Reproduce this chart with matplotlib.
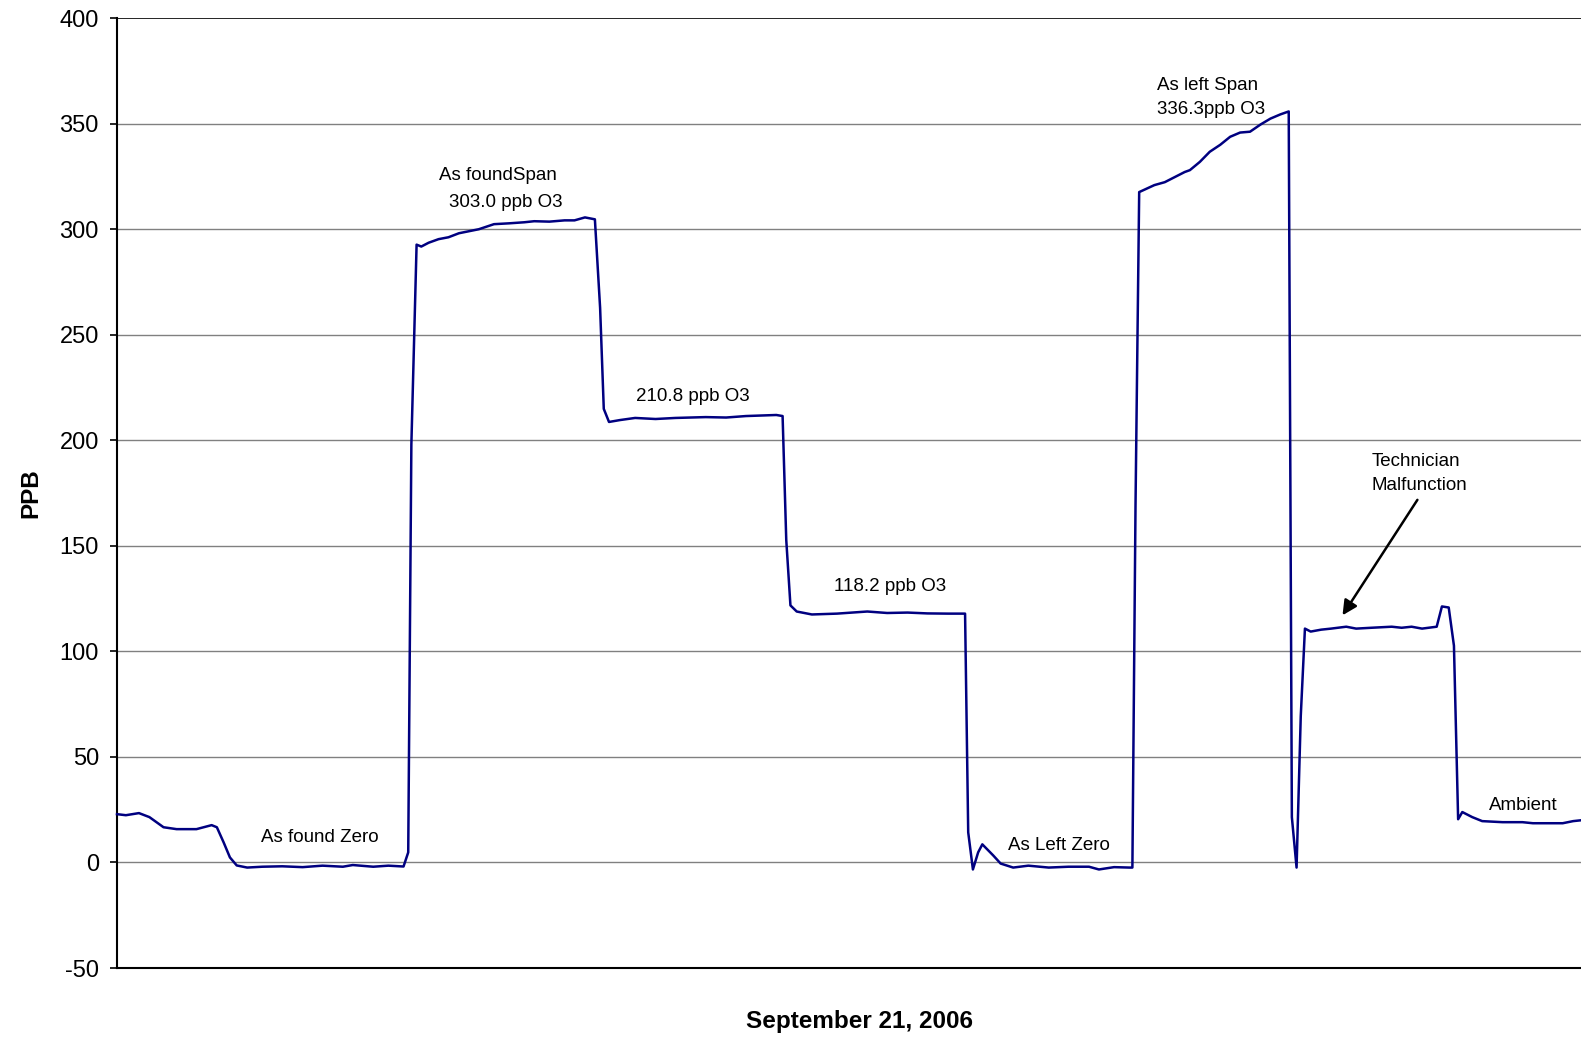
import matplotlib
matplotlib.use("Agg")
import matplotlib.pyplot as plt

plt.rcParams['font.family'] = ['Liberation Sans', 'DejaVu Sans']
plt.rcParams['axes.unicode_minus'] = False

# time (minutes from start) and ozone reading (ppb)
minutes = [0, 1.7, 4.2, 6.2, 8.9, 11.4, 15.2, 18.1, 19.1, 20.4, 21.6, 22.9, 24.9,
           27.8, 31.6, 35.5, 39.3, 43.2, 45.1, 49.0, 51.9, 54.8, 55.7, 56.3, 57.3,
           58.2, 59.6, 61.5, 63.4, 65.4, 69.2, 72.1, 75.0, 77.9, 79.8, 82.7, 85.6,
           87.5, 89.5, 91.4, 92.4, 93.1, 94.1, 96.2, 99.1, 103.0, 106.8, 112.6,
           116.5, 120.3, 126.1, 127.3, 128.0, 128.8, 130.0, 132.9, 137.7, 143.5,
           147.3, 151.2, 155.0, 158.9, 162.2, 162.8, 163.7, 164.7, 165.5, 167.6,
           169.0, 171.4, 174.3, 178.2, 182.0, 185.9, 187.8, 190.7, 193.6, 194.2,
           194.8, 195.5, 198.4, 200.4, 202.3, 204.2, 205.2, 207.1, 209.0, 211.0,
           212.9, 214.8, 216.7, 218.7, 220.6, 222.5, 224.1, 224.7, 225.6, 226.4,
           227.2, 228.3, 230.3, 232.2, 235.1, 237.0, 239.9, 243.8, 245.7, 247.6,
           249.6, 252.4, 253.4, 254.7, 255.7, 256.5, 257.3, 259.2, 261.1, 265.0,
           268.8, 270.8, 276.5, 278.5, 280.0]
ppb = [22.9, 22.4, 23.4, 21.5, 16.7, 15.8, 15.8, 17.7, 16.7, 9.5, 2.4, -1.4, -2.4,
       -2.0, -1.8, -2.2, -1.5, -2.0, -1.2, -2.0, -1.5, -1.9, 4.8, 198.0, 292.7,
       291.8, 293.6, 295.3, 296.2, 298.1, 300.0, 302.4, 302.8, 303.3, 303.8, 303.6,
       304.2, 304.2, 305.6, 304.7, 262.7, 214.9, 208.7, 209.6, 210.6, 210.1, 210.6,
       211.0, 210.8, 211.5, 212.0, 211.5, 152.8, 121.8, 118.9, 117.5, 117.9, 118.9,
       118.2, 118.4, 118.0, 117.9, 117.9, 14.3, -3.3, 4.8, 8.6, 3.3,
       -0.5, -2.4, -1.5, -2.4, -2.0, -2.0, -3.3, -2.2, -2.4, -2.4,
       169.5, 317.6, 320.9, 322.3, 324.7, 327.1, 328.0, 331.9, 336.7, 340.0,
       343.8, 345.8, 346.2, 349.6, 352.4, 354.4, 355.8, 21.5, -2.4, 69.2,
       110.8, 109.4, 110.3, 110.8, 111.7, 110.8, 111.2, 111.7, 111.2, 111.7,
       110.8, 111.7, 121.3, 120.8, 102.7, 20.5, 23.9, 21.5, 19.6, 19.1,
       19.1, 18.6, 18.6, 19.6, 20.0]

y_ticks = [-50, 0, 50, 100, 150, 200, 250, 300, 350, 400]

fig = plt.figure(figsize=(15.81, 10.37), dpi=100)
ax = fig.add_axes([0.074, 0.0665, 0.926, 0.916])

ax.plot(minutes, ppb, color='#000080', lw=1.8, zorder=3, clip_on=False)

ax.set_xlim(0, 280)
ax.set_ylim(-50, 400)
ax.set_yticks(y_ticks)
ax.set_xticks([])
for yv in y_ticks[1:-1]:
    ax.axhline(yv, color='#808080', lw=1.0, zorder=1)
ax.axhline(400, color='black', lw=1.2, zorder=1)

ax.spines['right'].set_visible(False)
ax.spines['top'].set_visible(False)
ax.spines['left'].set_linewidth(1.5)
ax.spines['bottom'].set_linewidth(1.5)
ax.tick_params(axis='y', labelsize=17, length=5, width=1.2, direction='out', pad=8)

ax.set_ylabel('PPB', fontsize=17.5, fontweight='bold', va='center')
ax.yaxis.set_label_coords(-0.059, 0.5)
ax.set_xlabel('September 21, 2006', fontsize=17.5, fontweight='bold', va='center')
ax.xaxis.set_label_coords(0.5075, -0.056)

fs = 13.5
ax.text(38.8, 11.9, 'As found Zero', ha='center', va='center', fontsize=fs)
ax.text(72.9, 325.5, 'As foundSpan', ha='center', va='center', fontsize=fs)
ax.text(74.4, 312.8, '303.0 ppb O3', ha='center', va='center', fontsize=fs)
ax.text(110.1, 220.6, '210.8 ppb O3', ha='center', va='center', fontsize=fs)
ax.text(147.9, 130.8, '118.2 ppb O3', ha='center', va='center', fontsize=fs)
ax.text(180.1, 8.2, 'As Left Zero', ha='center', va='center', fontsize=fs)
ax.text(199.0, 368.2, 'As left Span', ha='left', va='center', fontsize=fs)
ax.text(199.0, 356.8, '336.3ppb O3', ha='left', va='center', fontsize=fs)
ax.text(239.9, 190.0, 'Technician', ha='left', va='center', fontsize=fs)
ax.text(239.9, 178.6, 'Malfunction', ha='left', va='center', fontsize=fs)
ax.text(269.0, 26.8, 'Ambient', ha='center', va='center', fontsize=fs)
ax.annotate('', xy=(234.1, 116.0), xytext=(249.0, 172.9),
            arrowprops=dict(arrowstyle='-|>', color='black', lw=1.8,
                            mutation_scale=22))

fig.savefig('out.png', dpi=100)
